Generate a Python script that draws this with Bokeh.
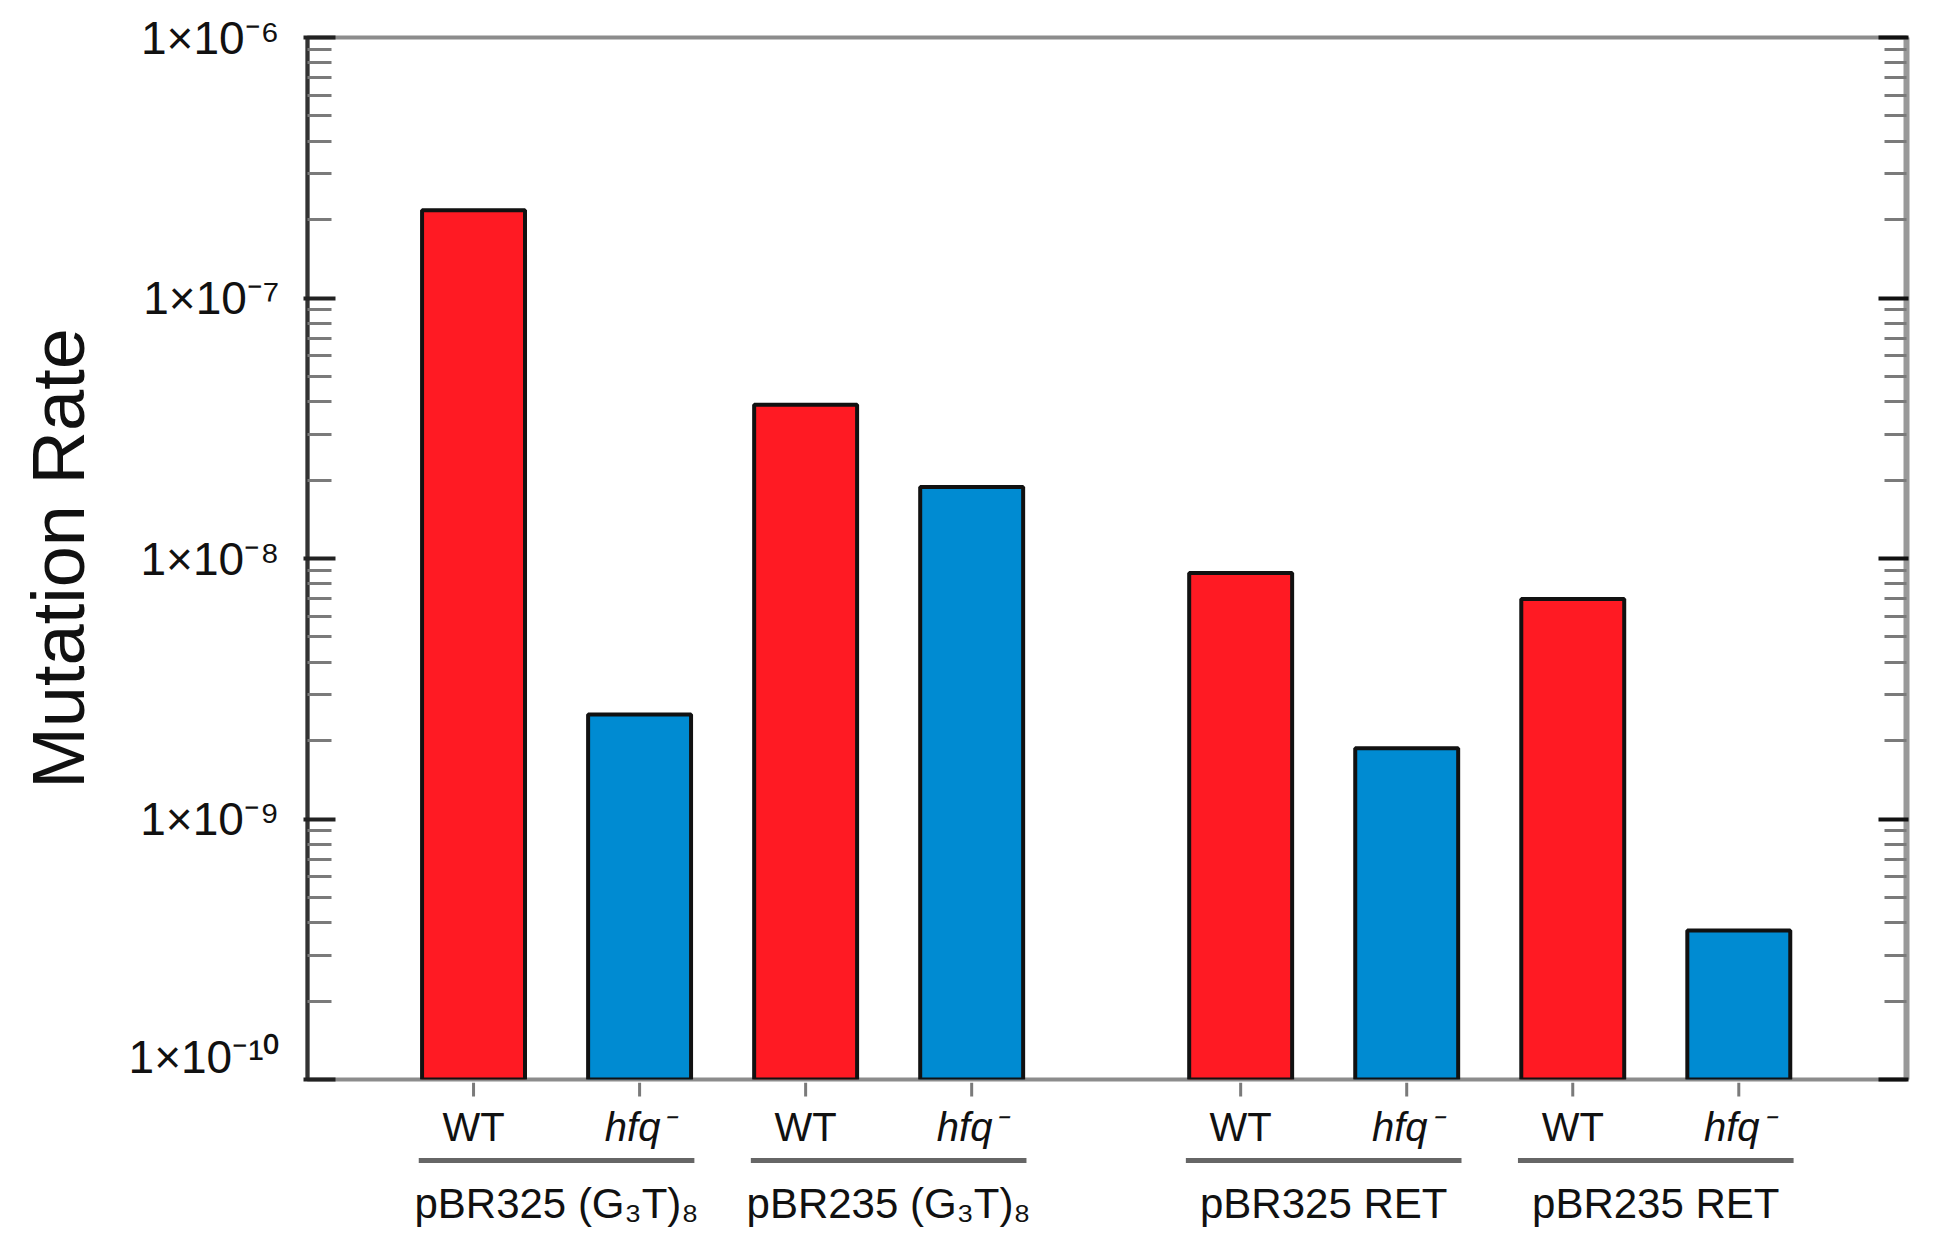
from bokeh.plotting import figure
from bokeh.layouts import column
from bokeh.models import Range1d, FixedTicker, LogAxis, ColumnDataSource
from bokeh.core.properties import value
from bokeh.embed import file_html
from bokeh.resources import INLINE

# ---- data ----
strains = ["WT", "hfq", "WT", "hfq", "WT", "hfq", "WT", "hfq"]
group_index = [0, 0, 1, 1, 2, 2, 3, 3]
super_group = [0, 0, 0, 0, 1, 1, 1, 1]
rates = [2.17e-7, 2.52e-9, 3.89e-8, 1.88e-8, 8.8e-9, 1.87e-9, 6.99e-9, 3.73e-10]
group_names = ["pBR325 (G₃T)₈", "pBR235 (G₃T)₈", "pBR325 RET", "pBR235 RET"]
y_ticks = [1e-10, 1e-9, 1e-8, 1e-7, 1e-6]
y_tick_labels = ["1×10⁻¹⁰", "1×10⁻⁹", "1×10⁻⁸", "1×10⁻⁷", "1×10⁻⁶"]
strain_labels = {"WT": "WT", "hfq": "hfq⁻"}

# ---- layout / style ----
W = 1935
H_MAIN = 1082
H_LOW = 152
BL, BR, BT, BB = 307, 29, 37, 3
YMIN, YMAX = 1e-10, 1e-6
GAP = 0.62
BAR_W = 0.62
XMAX = 9.63
RED = "#ff1a23"
BLUE = "#008bd2"
FONT = "Liberation Sans"
# rows of the lower strip (pixels below its top edge)
TICK_LEN, ROW_STRAIN, ROW_LINE, ROW_GROUP = 14, 44, 78, 121

xpos = [i + 1 + GAP * sg for i, sg in enumerate(super_group)]
colors = [RED if s == "WT" else BLUE for s in strains]
minor = [m * 10.0 ** e for e in range(-10, -6) for m in range(2, 10)]

p = figure(width=W, height=H_MAIN, y_axis_type="log",
           x_range=Range1d(0, XMAX), y_range=Range1d(YMIN, YMAX),
           x_axis_location=None,
           output_backend="svg", toolbar_location=None,
           min_border_left=BL, min_border_right=BR,
           min_border_top=BT, min_border_bottom=BB)
p.xgrid.visible = False
p.ygrid.visible = False
p.background_fill_color = "white"
p.border_fill_color = "white"
p.outline_line_color = "#8c8c8c"
p.outline_line_width = 4

bars = ColumnDataSource(dict(x=xpos, top=rates, color=colors))
p.vbar(x="x", top="top", bottom=YMIN, width=BAR_W, source=bars,
       fill_color="color", line_color="#111111", line_width=4)

# left y axis
ya = p.yaxis[0]
ya.ticker = FixedTicker(ticks=y_ticks, minor_ticks=minor)
ya.major_label_overrides = dict(zip(y_ticks, y_tick_labels))
ya.major_label_text_font = FONT
ya.major_label_text_font_size = "46px"
ya.major_label_text_color = "#111111"
ya.major_label_standoff = 24
ya.major_tick_out = 4
ya.major_tick_in = 28
ya.minor_tick_out = 0
ya.minor_tick_in = 24
ya.major_tick_line_color = "#222222"
ya.major_tick_line_width = 4
ya.minor_tick_line_color = "#7a7a7a"
ya.minor_tick_line_width = 3
ya.axis_line_color = "#333333"
ya.axis_line_width = 4
ya.axis_label = "Mutation Rate"
ya.axis_label_text_font = FONT
ya.axis_label_text_font_size = "74px"
ya.axis_label_text_font_style = "normal"
ya.axis_label_text_color = "#111111"
ya.axis_label_standoff = 26

# right y axis (ticks only)
ra = LogAxis(ticker=FixedTicker(ticks=y_ticks, minor_ticks=minor),
             major_label_overrides={t: "" for t in y_ticks},
             major_tick_out=2, major_tick_in=28,
             minor_tick_out=0, minor_tick_in=22,
             major_tick_line_color="#111111", major_tick_line_width=4,
             minor_tick_line_color="#7a7a7a", minor_tick_line_width=3,
             axis_line_color="#999999", axis_line_width=6)
p.add_layout(ra, "right")

# ---- lower strip: x ticks, strain labels, group underlines, group names ----
q = figure(width=W, height=H_LOW, x_range=p.x_range, y_range=Range1d(H_LOW, 0),
           x_axis_location=None, y_axis_location=None,
           output_backend="svg", toolbar_location=None,
           min_border_left=BL, min_border_right=BR,
           min_border_top=0, min_border_bottom=0)
q.xgrid.visible = False
q.ygrid.visible = False
q.outline_line_color = None
q.background_fill_color = "white"
q.border_fill_color = "white"

q.segment(x0=xpos, y0=[0] * len(xpos), x1=xpos, y1=[TICK_LEN] * len(xpos),
          line_color="#7a7a7a", line_width=3)

for key, style in (("WT", "normal"), ("hfq", "italic")):
    idx = [i for i, s in enumerate(strains) if s == key]
    q.text(x=[xpos[i] for i in idx], y=[ROW_STRAIN] * len(idx),
           text=[strain_labels[key]] * len(idx),
           text_align="center", text_baseline="middle",
           text_font=value(FONT), text_font_size="40px",
           text_font_style=style, text_color="#111111")

gx0, gx1, gxm = [], [], []
for g in range(len(group_names)):
    members = [xpos[i] for i, gi in enumerate(group_index) if gi == g]
    gx0.append(min(members) - 0.33)
    gx1.append(max(members) + 0.33)
    gxm.append((min(members) + max(members)) / 2)
ng = len(group_names)
q.segment(x0=gx0, y0=[ROW_LINE] * ng, x1=gx1, y1=[ROW_LINE] * ng,
          line_color="#666666", line_width=5)
q.text(x=gxm, y=[ROW_GROUP] * ng, text=group_names,
       text_align="center", text_baseline="middle",
       text_font=value(FONT), text_font_size="42px", text_color="#111111")

layout = column(p, q, spacing=0)
open("out.html", "w").write(file_html(layout, INLINE))
